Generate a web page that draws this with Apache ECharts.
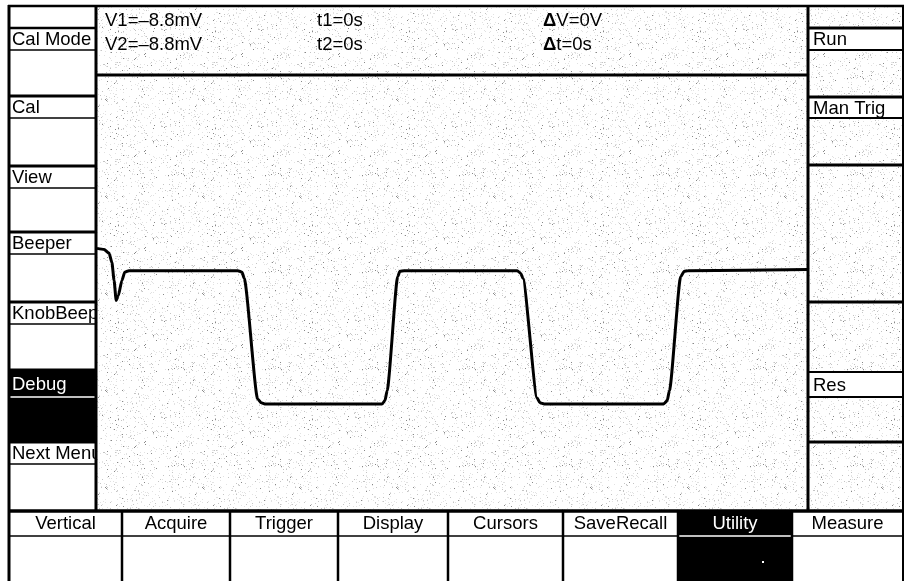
<!DOCTYPE html>
<html><head><meta charset="utf-8">
<script src="https://cdn.jsdelivr.net/npm/echarts@6/dist/echarts.min.js"></script>
<style>html,body{margin:0;padding:0;background:#fff}#c{width:905px;height:581px}</style>
</head><body><div id="c"></div>
<script>
// ---- data (time in divisions, voltage in divisions) ----
const times = [0, 0.10, 0.17, 0.21, 0.24, 0.27, 0.30, 0.35, 0.39, 0.45,
  1.98, 2.04, 2.07, 2.26, 2.31, 2.36,
  4.01, 4.05, 4.08, 4.23, 4.26, 4.32,
  5.91, 5.96, 5.99, 6.19, 6.23, 6.29,
  7.97, 8.02, 8.05, 8.21, 8.26, 8.31, 10];
const volts = [0.83, 0.81, 0.74, 0.57, 0.24, -0.13, -0.04, 0.24, 0.39, 0.42,
  0.42, 0.39, 0.28, -1.94, -2.01, -2.03,
  -2.03, -1.97, -1.79, 0.31, 0.41, 0.42,
  0.42, 0.37, 0.28, -1.92, -2.01, -2.03,
  -2.03, -1.97, -1.79, 0.31, 0.41, 0.42, 0.44];
const leftMenu = ['Cal Mode', 'Cal', 'View', 'Beeper', 'KnobBeep', 'Debug', 'Next Menu'];
const rightMenu = ['Run', 'Man Trig', 'Res'];
const bottomMenu = ['Vertical', 'Acquire', 'Trigger', 'Display', 'Cursors', 'SaveRecall', 'Utility', 'Measure'];
const readoutCol1 = ['V1=–8.8mV', 'V2=–8.8mV'];
const readoutCol2 = ['t1=0s', 't2=0s'];
const readoutCol3 = ['{d|Δ}V=0V', '{d|Δ}t=0s'];
const activeLeft = 'Debug';
const activeBottom = 'Utility';

// ---- stipple texture ----
function stipple() {
  const n = 97, c = document.createElement('canvas');
  c.width = n; c.height = n;
  const g = c.getContext('2d');
  g.fillStyle = '#fff'; g.fillRect(0, 0, n, n);
  for (let y = 0; y < n; y++) for (let x = 0; x < n; x++) {
    let h = Math.imul(x * 7919 + y * 104729 + 12345, 2654435761) >>> 0;
    h = (h ^ (h >>> 15)) >>> 0; h = Math.imul(h, 2246822519) >>> 0; h = (h ^ (h >>> 13)) >>> 0;
    const v = h % 1000;
    if (v < 75) {
      g.fillStyle = v < 8 ? '#888' : (v < 30 ? '#c4c4c4' : '#e2e2e2');
      g.fillRect(x, y, 1, 1);
    }
  }
  return c;
}
const pat = { image: stipple(), repeat: 'repeat' };

const FONT = '"Liberation Sans", Arial, Helvetica, sans-serif';
const FS = 18.5;
const els = [];
function rect(x, y, w, h, fill, z) { els.push({ type: 'rect', silent: true, z: z || 0, shape: { x, y, width: w, height: h }, style: { fill } }); }
function line(x1, y1, x2, y2, w, color) { els.push({ type: 'line', silent: true, z: 6, shape: { x1, y1, x2, y2 }, style: { stroke: color || '#000', lineWidth: w } }); }
function text(x, y, str, color, align) {
  els.push({ type: 'text', silent: true, z: 1, x, y, style: {
    text: str, fill: color || '#000', font: FS + 'px ' + FONT,
    align: align || 'left', verticalAlign: 'middle',
    rich: { d: { fontWeight: 'bold', fontSize: FS, fontFamily: FONT, fill: color || '#000' } }
  } });
}

// backgrounds
rect(97, 76, 711, 435, pat, 2);       // plot area (covers overflowing menu text)
rect(96, 6, 712, 69, pat);            // readout area
rect(808, 6, 95, 505, pat);           // right menu
rect(808, 28, 95, 22, '#fff');
rect(808, 97, 95, 21, '#fff');
rect(808, 372, 95, 25, '#fff');

// left menu
const leftTop = [28, 96, 166, 232, 302, 370, 442];
const leftEnd = [96, 166, 232, 302, 370, 442, 511];
leftMenu.forEach((lab, i) => {
  const t = leftTop[i];
  const active = lab === activeLeft;
  if (active) rect(9, t, 87, leftEnd[i] - t, '#000');
  const lh = (lab === 'Debug') ? 27 : 22;
  line(9, t + lh, 95, t + lh, 1.5, active ? '#fff' : '#000');
  text(12, t + lh / 2 + 1, lab, active ? '#fff' : '#000');
});
[28].forEach(y => line(9, y, 96, y, 2.5));
[96, 166, 232, 302, 370, 442].forEach(y => line(9, y, 96, y, 3));

// right menu
const rightTop = [28, 97, 372];
const rightH = [22, 21, 25];
rightMenu.forEach((lab, i) => {
  line(808, rightTop[i] + rightH[i], 903, rightTop[i] + rightH[i], 2);
  text(813, rightTop[i] + rightH[i] / 2 + 1, lab, '#000');
});
[28, 97, 165, 302, 442].forEach(y => line(808, y, 903, y, 3));
line(808, 372, 903, 372, 2);

// bottom menu
const cols = [9, 122, 230, 338, 448, 563, 678, 792, 903];
bottomMenu.forEach((lab, i) => {
  const a = cols[i], b = cols[i + 1];
  const active = lab === activeBottom;
  if (active) { rect(a, 511, b - a, 70, '#000'); rect(762, 561, 2, 2, '#fff'); }
  line(a, 536, b, 536, 1.5, active ? '#fff' : '#000');
  text((a + b) / 2, 524, lab, active ? '#fff' : '#000', 'center');
});
cols.slice(1, -1).forEach(x => line(x, 511, x, 581, 2.5));

// readouts
readoutCol1.forEach((s, i) => text(105, 21 + i * 24, s));
readoutCol2.forEach((s, i) => text(317, 21 + i * 24, s));
readoutCol3.forEach((s, i) => text(543, 21 + i * 24, s));

// frame
line(8, 6, 904, 6, 2.5);
line(9, 5, 9, 581, 3);
line(903, 5, 903, 581, 2);
line(96, 6, 96, 511, 3);
line(808, 6, 808, 511, 3);
line(96, 75, 808, 75, 3);
line(8, 511, 904, 511, 3.5);

const chart = echarts.init(document.getElementById('c'), null, { renderer: 'canvas' });
chart.setOption({
  animation: false,
  backgroundColor: '#fff',
  grid: { left: 97, right: 97, top: 76, bottom: 70, show: false },
  xAxis: { type: 'value', min: 0, max: 10, show: false },
  yAxis: { type: 'value', min: -4, max: 4, show: false },
  series: [{
    type: 'line', data: times.map((t, i) => [t, volts[i]]),
    showSymbol: false, symbol: 'none', smooth: 0.2, smoothMonotone: 'x',
    lineStyle: { color: '#000', width: 3 }, z: 5
  }],
  graphic: { elements: els }
});
</script>
</body></html>
